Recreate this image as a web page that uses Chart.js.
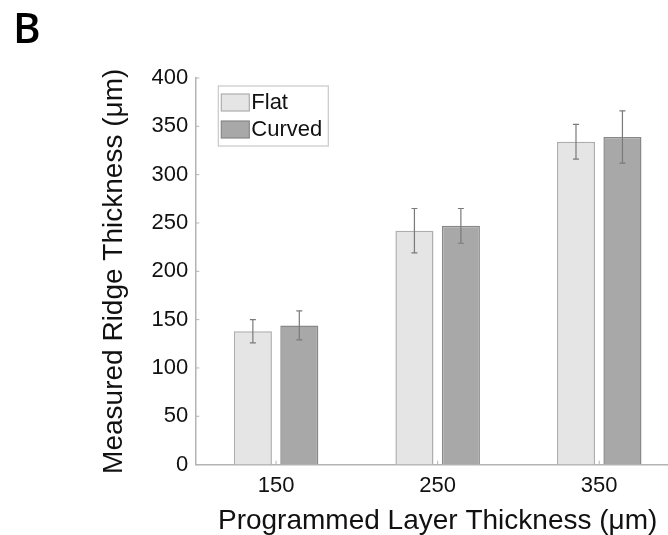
<!DOCTYPE html>
<html>
<head>
<meta charset="utf-8">
<script src="https://cdn.jsdelivr.net/npm/chart.js@4/dist/chart.umd.min.js"></script>
<style>
  html, body { margin: 0; padding: 0; background: #fff; overflow: hidden; }
  #wrap { position: relative; width: 668px; height: 535px; overflow: hidden; }
  #panel { position: absolute; left: 13px; top: 6px; font: 600 42px/1 "Open Sans", sans-serif; color: #000; }
  #chart { position: absolute; left: 0; top: 0; }
</style>
</head>
<body>
<div id="wrap">
  <canvas id="chart" width="680" height="535"></canvas>
  <div id="panel">B</div>
</div>
<script>
// Datos
const categorias = ['150', '250', '350'];
const flat = [138, 242, 334];
const flatErr = [12, 23, 18];
const curved = [144, 247, 339];
const curvedErr = [15, 18, 27];
const yTicks = [0, 50, 100, 150, 200, 250, 300, 350, 400];

const GRIS = {
    flat: '#e5e5e5',
    flatBorde: '#adadad',
    curved: '#a8a8a8',
    curvedBorde: '#888888',
    eje: '#b4b4b4',
    error: '#7a7a7a'
};

const FUENTE = '"Liberation Sans", Arial, sans-serif';

/**
 * Barras de error y marcas internas de los ejes
 */
const pluginErrores = {
    id: 'errores',
    afterDatasetsDraw(chart) {
        const ctx = chart.ctx;
        const y = chart.scales.y;
        const x = chart.scales.x;
        const area = chart.chartArea;
        const errores = [flatErr, curvedErr];
        ctx.save();
        ctx.strokeStyle = GRIS.error;
        ctx.lineWidth = 1.2;
        chart.data.datasets.forEach(function(ds, i) {
            const meta = chart.getDatasetMeta(i);
            meta.data.forEach(function(bar, j) {
                const v = ds.data[j];
                const e = errores[i][j];
                const top = y.getPixelForValue(v + e);
                const bot = y.getPixelForValue(v - e);
                ctx.beginPath();
                ctx.moveTo(bar.x, top);
                ctx.lineTo(bar.x, bot);
                ctx.moveTo(bar.x - 3, top);
                ctx.lineTo(bar.x + 3, top);
                ctx.moveTo(bar.x - 3, bot);
                ctx.lineTo(bar.x + 3, bot);
                ctx.stroke();
            });
        });
        // marcas hacia dentro
        ctx.strokeStyle = GRIS.eje;
        ctx.lineWidth = 1;
        yTicks.forEach(function(t) {
            const py = y.getPixelForValue(t);
            ctx.beginPath();
            ctx.moveTo(area.left, py);
            ctx.lineTo(area.left + 4, py);
            ctx.stroke();
        });
        categorias.forEach(function(c, i) {
            const px = x.getPixelForValue(i);
            ctx.beginPath();
            ctx.moveTo(px, area.bottom);
            ctx.lineTo(px, area.bottom - 4);
            ctx.stroke();
        });
        ctx.restore();
    }
};

/**
 * Leyenda dentro del area del grafico
 */
const pluginLeyenda = {
    id: 'leyendaInterna',
    afterDraw(chart) {
        const ctx = chart.ctx;
        const area = chart.chartArea;
        const x0 = area.left + 23;
        const y0 = area.top + 8;
        ctx.save();
        ctx.fillStyle = '#fff';
        ctx.strokeStyle = '#c8c8c8';
        ctx.lineWidth = 1.2;
        ctx.fillRect(x0, y0, 110, 60);
        ctx.strokeRect(x0, y0, 110, 60);
        ctx.font = '22px ' + FUENTE;
        ctx.textBaseline = 'middle';
        chart.data.datasets.forEach(function(ds, i) {
            const ry = y0 + 8 + i * 27;
            ctx.fillStyle = ds.backgroundColor;
            ctx.strokeStyle = ds.borderColor;
            ctx.fillRect(x0 + 3, ry, 28, 17);
            ctx.strokeRect(x0 + 3, ry, 28, 17);
            ctx.fillStyle = '#111';
            ctx.fillText(ds.label, x0 + 33, ry + 9);
        });
        ctx.restore();
    }
};

new Chart(document.getElementById('chart'), {
    type: 'bar',
    data: {
        labels: categorias,
        datasets: [{
            label: 'Flat',
            data: flat,
            backgroundColor: GRIS.flat,
            borderColor: GRIS.flatBorde,
            borderWidth: 1.5
        }, {
            label: 'Curved',
            data: curved,
            backgroundColor: GRIS.curved,
            borderColor: GRIS.curvedBorde,
            borderWidth: 1.5
        }]
    },
    options: {
        responsive: false,
        animation: false,
        categoryPercentage: 0.575,
        barPercentage: 0.82,
        layout: {
            padding: { left: 97, top: 78, right: 0, bottom: 0 }
        },
        plugins: {
            legend: { display: false },
            tooltip: { enabled: false }
        },
        scales: {
            x: {
                grid: { display: false, drawTicks: false },
                border: { color: GRIS.eje, width: 1.5 },
                ticks: {
                    color: '#111',
                    padding: 8,
                    font: { family: FUENTE, size: 22 }
                },
                title: {
                    display: true,
                    text: 'Programmed Layer Thickness (μm)',
                    color: '#111',
                    font: { family: FUENTE, size: 28, lineHeight: 1 },
                    padding: { top: 0, bottom: 0 }
                }
            },
            y: {
                min: 0,
                max: 400,
                afterBuildTicks: function(axis) {
                    axis.ticks = yTicks.map(function(v) { return { value: v }; });
                },
                grid: { display: false, drawTicks: false },
                border: { color: GRIS.eje, width: 1.5 },
                ticks: {
                    color: '#111',
                    padding: 7,
                    font: { family: FUENTE, size: 22 }
                },
                title: {
                    display: true,
                    text: 'Measured Ridge Thickness (μm)',
                    color: '#111',
                    font: { family: FUENTE, size: 28, lineHeight: 1.2 },
                    padding: { top: 0, bottom: 14 }
                }
            }
        }
    },
    plugins: [pluginErrores, pluginLeyenda]
});
</script>
</body>
</html>
